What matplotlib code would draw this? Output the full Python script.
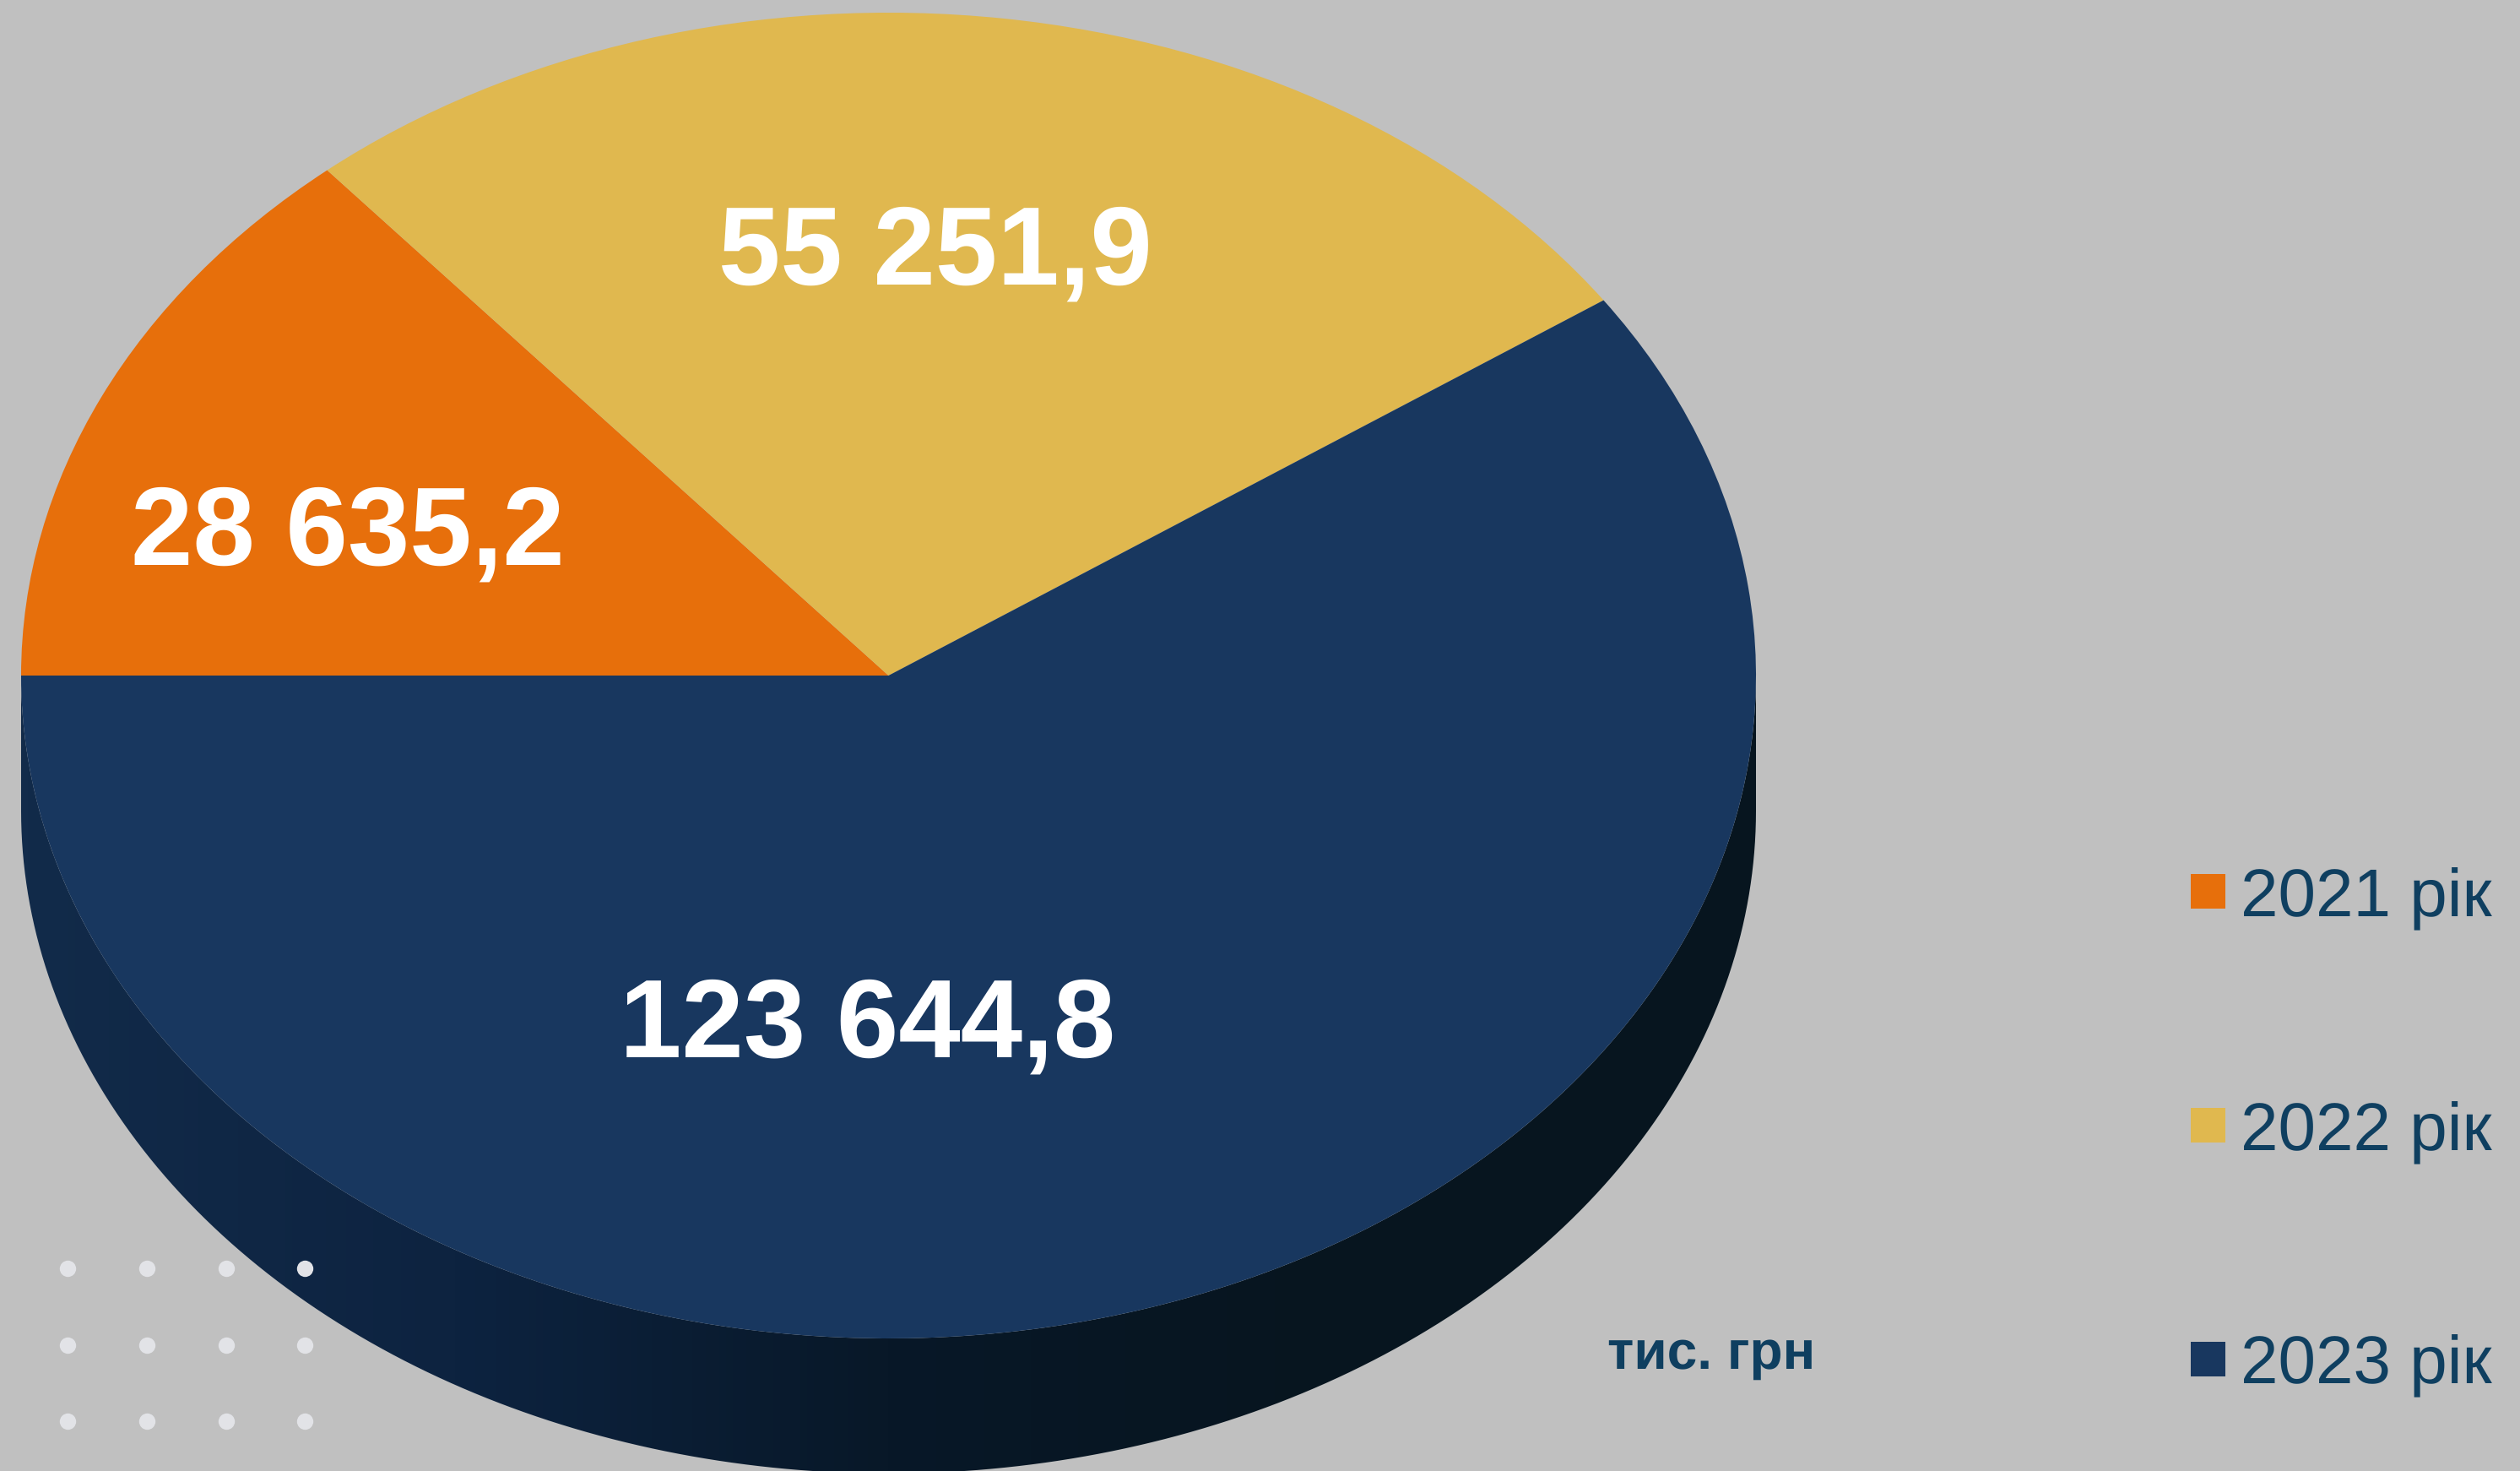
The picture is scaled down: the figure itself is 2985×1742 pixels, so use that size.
import numpy as np
import matplotlib
matplotlib.use('Agg')
import matplotlib.pyplot as plt
from matplotlib.colors import LinearSegmentedColormap
from matplotlib.patches import Polygon

plt.rcParams['text.hinting'] = 'no_hinting'
plt.rcParams['text.hinting_factor'] = 1

W, H = 2985, 1742
BG = '#c0c0c0'

years = ['2021 рік', '2022 рік', '2023 рік']
values = [28635.2, 55251.9, 123644.8]
value_labels = ['28 635,2', '55 251,9', '123 644,8']
colors = ['#e76f0b', '#e0b84f', '#18375f']
unit_label = 'тис. грн'
dot_xs = [80, 174, 268, 361]
dot_ys = [1502, 1593, 1683]

fig = plt.figure(figsize=(W/100, H/100), dpi=100, facecolor=BG)

# full-figure axes in pixel coords for legend and decorations
bg = fig.add_axes([0, 0, 1, 1], zorder=3)
bg.set_xlim(0, W)
bg.set_ylim(H, 0)
bg.axis('off')

# pie axes sits exactly on the top ellipse
cx, cy, rx, ry = 1052.5, 800, 1027.5, 785
depth = 160/ry
ax = fig.add_axes([(cx-rx)/W, 1-(cy+ry)/H, 2*rx/W, 2*ry/H], zorder=1)
wedges, _ = ax.pie(values, colors=colors, startangle=180, counterclock=False,
                   radius=1, center=(0, 0), wedgeprops={'linewidth': 0, 'zorder': 3})

# side of the cake, gradient left to right
t = np.linspace(np.pi, 2*np.pi, 200)
xs, ys = np.cos(t), np.sin(t)
side = np.concatenate([np.c_[xs, ys], np.c_[xs[::-1], ys[::-1]-depth]])
cmap = LinearSegmentedColormap.from_list('side', ['#122b4a', '#0d2340', '#081828', '#07151f', '#07151f'])
im = ax.imshow(np.linspace(0, 1, 512)[None, :], extent=(-1, 1, -1-depth, 0), aspect='auto',
               cmap=cmap, zorder=1)
im.set_clip_box(fig.bbox)
im.set_clip_path(Polygon(side, transform=ax.transData))
ax.set_aspect('auto')
ax.set_xlim(-1, 1)
ax.set_ylim(-1, 1)
ax.axis('off')

# value labels
label_pos = [(412, 669), (1108, 337), (1028, 1252)]
for (x, y), s in zip(label_pos, value_labels):
    bg.text(x, y, s, color='white', fontsize=95, fontweight='bold', family='Liberation Sans',
            ha='center', va='baseline')

bg.text(2027, 1621, unit_label, color='#0f3f60', fontsize=46, fontweight='bold',
        family='Liberation Sans', ha='center', va='baseline')

# legend
legend_ys = [1055, 1332, 1609]
text_ys = [1085, 1362, 1638]
for y, ty, s, c in zip(legend_ys, text_ys, years, colors):
    bg.fill_between([2595, 2636], y-20.5, y+20.5, color=c, linewidth=0)
    bg.text(2654, ty, s, color='#0f3f60', fontsize=57.5, family='Liberation Sans',
            ha='left', va='baseline')

# dot grid
for y in dot_ys:
    bg.scatter(dot_xs, [y]*len(dot_xs), s=195, color='#e2e3e7', linewidths=0)
bg.set_xlim(0, W)
bg.set_ylim(H, 0)

fig.savefig('out.png', dpi=100, facecolor=BG)
